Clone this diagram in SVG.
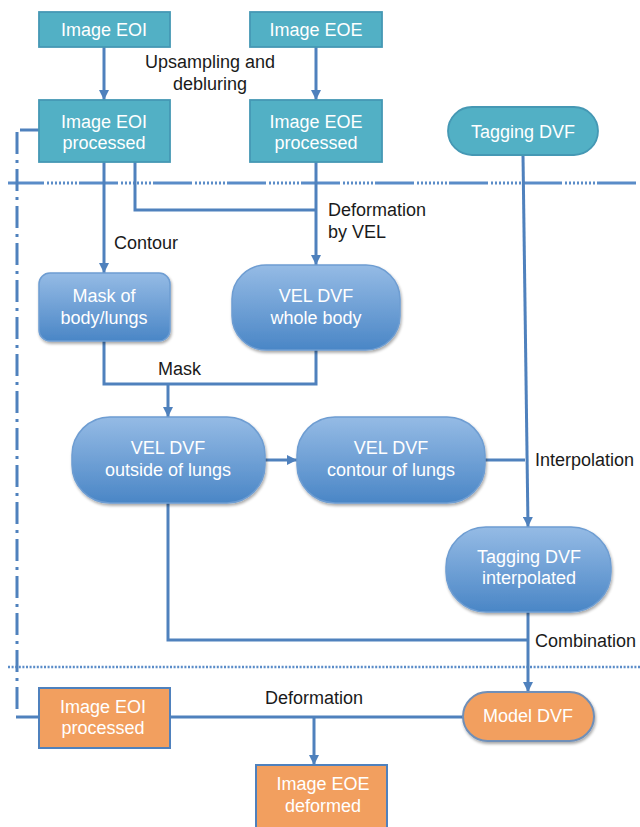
<svg xmlns="http://www.w3.org/2000/svg" width="640" height="827" viewBox="0 0 640 827">
<defs>
<linearGradient id="blueGrad" x1="0" y1="0" x2="0" y2="1">
<stop offset="0" stop-color="#95bbe5"/>
<stop offset="1" stop-color="#4a86c6"/>
</linearGradient>
<filter id="shadow" x="-10%" y="-10%" width="130%" height="130%">
<feGaussianBlur in="SourceAlpha" stdDeviation="1.5"/>
<feOffset dx="1" dy="2" result="b"/>
<feComponentTransfer><feFuncA type="linear" slope="0.35"/></feComponentTransfer>
<feMerge><feMergeNode/><feMergeNode in="SourceGraphic"/></feMerge>
</filter>
<marker id="arrow" markerWidth="12" markerHeight="10" refX="10" refY="5" orient="auto" markerUnits="userSpaceOnUse">
<path d="M0,0 L10,5 L0,10 z" fill="#4f81bd"/>
</marker>
</defs>
<style>
.teal{fill:#52b0c5;stroke:#4598b4;stroke-width:1.8}
.blue{fill:url(#blueGrad);stroke:#6e9dd2;stroke-width:1.5;filter:url(#shadow)}
.orange{fill:#f29f5f;stroke:#4f81bd;stroke-width:2}
.orangeS{fill:#f29f5f;stroke:#6f8fb8;stroke-width:2;filter:url(#shadow)}
.nt{font-family:"Liberation Sans",Arial,sans-serif;font-size:18px;fill:#ffffff;text-anchor:middle}
.lbl{font-family:"Liberation Sans",Arial,sans-serif;font-size:18px;fill:#1a1a1a}
.c{fill:none;stroke:#4f81bd;stroke-width:3}
.ca{fill:none;stroke:#4f81bd;stroke-width:3;marker-end:url(#arrow)}
.sep1{fill:none;stroke:#5a8cc8;stroke-width:3;stroke-dasharray:36 3 2 2 2 2 2 2 2 2 2 2 2 2 2 2 2 2 3 0}
.sep2{fill:none;stroke:#5a8cc8;stroke-width:2.5;stroke-dasharray:2 1.6}
.dd{fill:none;stroke:#4f81bd;stroke-width:3;stroke-dasharray:22 6 3 6}
</style>

<g id="separators">
<line class="sep1" x1="8" y1="183" x2="638" y2="183"/>
<line class="sep2" x1="8" y1="667" x2="640" y2="667"/>
</g>

<g id="connectors">
<line class="ca" x1="104" y1="47" x2="104" y2="100"/>
<line class="ca" x1="316" y1="47" x2="316" y2="100"/>
<line class="ca" x1="104" y1="162" x2="104" y2="273"/>
<polyline class="c" points="135,162 135,210 316,210"/>
<line class="ca" x1="316" y1="162" x2="316" y2="265"/>
<polyline class="c" points="104,341 104,384 316,384 316,350"/>
<line class="ca" x1="168" y1="384" x2="168" y2="417"/>
<line class="ca" x1="265" y1="460" x2="297" y2="460"/>
<line class="c" x1="485" y1="460" x2="525" y2="460"/>
<line class="ca" x1="523" y1="155" x2="528" y2="527"/>
<polyline class="c" points="168,503 168,640 528,640"/>
<line class="ca" x1="528" y1="612" x2="528" y2="692"/>
<line class="c" x1="170" y1="717" x2="463" y2="717"/>
<line class="ca" x1="314" y1="717" x2="314" y2="765"/>
<line class="c" x1="20" y1="130" x2="39" y2="130"/>
<line class="dd" x1="17" y1="132" x2="17" y2="715"/>
<line class="c" x1="16" y1="717" x2="39" y2="717"/>
</g>

<g id="n-image-eoi">
<rect class="teal" x="39" y="12" width="131" height="35"/>
<text class="nt" x="104" y="36">Image EOI</text>
</g>
<g id="n-image-eoe">
<rect class="teal" x="250" y="12" width="132" height="35"/>
<text class="nt" x="316" y="36">Image EOE</text>
</g>
<g id="n-eoi-processed">
<rect class="teal" x="39" y="100" width="131" height="62"/>
<text class="nt" x="104" y="128">Image EOI</text>
<text class="nt" x="104" y="149">processed</text>
</g>
<g id="n-eoe-processed">
<rect class="teal" x="250" y="100" width="132" height="62"/>
<text class="nt" x="316" y="128">Image EOE</text>
<text class="nt" x="316" y="149">processed</text>
</g>
<g id="n-tagging-dvf">
<rect class="teal" x="448" y="107" width="150" height="48" rx="24" ry="24"/>
<text class="nt" x="523" y="138">Tagging DVF</text>
</g>
<g id="n-mask">
<rect class="blue" x="39" y="273" width="131" height="68" rx="11" ry="11"/>
<text class="nt" x="104" y="302">Mask of</text>
<text class="nt" x="104" y="324">body/lungs</text>
</g>
<g id="n-vel-whole">
<rect class="blue" x="232" y="265" width="168" height="85" rx="34" ry="34"/>
<text class="nt" x="316" y="302">VEL DVF</text>
<text class="nt" x="316" y="324">whole body</text>
</g>
<g id="n-vel-outside">
<rect class="blue" x="72" y="417" width="193" height="86" rx="38" ry="38"/>
<text class="nt" x="168" y="454">VEL DVF</text>
<text class="nt" x="168" y="476">outside of lungs</text>
</g>
<g id="n-vel-contour">
<rect class="blue" x="297" y="417" width="188" height="86" rx="38" ry="38"/>
<text class="nt" x="391" y="454">VEL DVF</text>
<text class="nt" x="391" y="476">contour of lungs</text>
</g>
<g id="n-tagging-interp">
<rect class="blue" x="446" y="527" width="165" height="85" rx="40" ry="40"/>
<text class="nt" x="529" y="563">Tagging DVF</text>
<text class="nt" x="529" y="584">interpolated</text>
</g>
<g id="n-eoi-processed-2">
<rect class="orange" x="39" y="688" width="131" height="60"/>
<text class="nt" x="103" y="713">Image EOI</text>
<text class="nt" x="103" y="734">processed</text>
</g>
<g id="n-model-dvf">
<rect class="orangeS" x="463" y="692" width="131" height="49" rx="24.5" ry="24.5"/>
<text class="nt" x="528" y="722">Model DVF</text>
</g>
<g id="n-eoe-deformed">
<rect class="orange" x="256" y="765" width="131" height="64"/>
<text class="nt" x="323" y="790">Image EOE</text>
<text class="nt" x="323" y="812">deformed</text>
</g>

<g id="labels">
<text class="lbl" x="210" y="68" text-anchor="middle">Upsampling and</text>
<text class="lbl" x="210" y="90" text-anchor="middle">debluring</text>
<text class="lbl" x="328" y="216">Deformation</text>
<text class="lbl" x="328" y="238">by VEL</text>
<text class="lbl" x="114" y="249">Contour</text>
<text class="lbl" x="158" y="375">Mask</text>
<text class="lbl" x="535" y="466">Interpolation</text>
<text class="lbl" x="535" y="647">Combination</text>
<text class="lbl" x="314" y="704" text-anchor="middle">Deformation</text>
</g>
</svg>
